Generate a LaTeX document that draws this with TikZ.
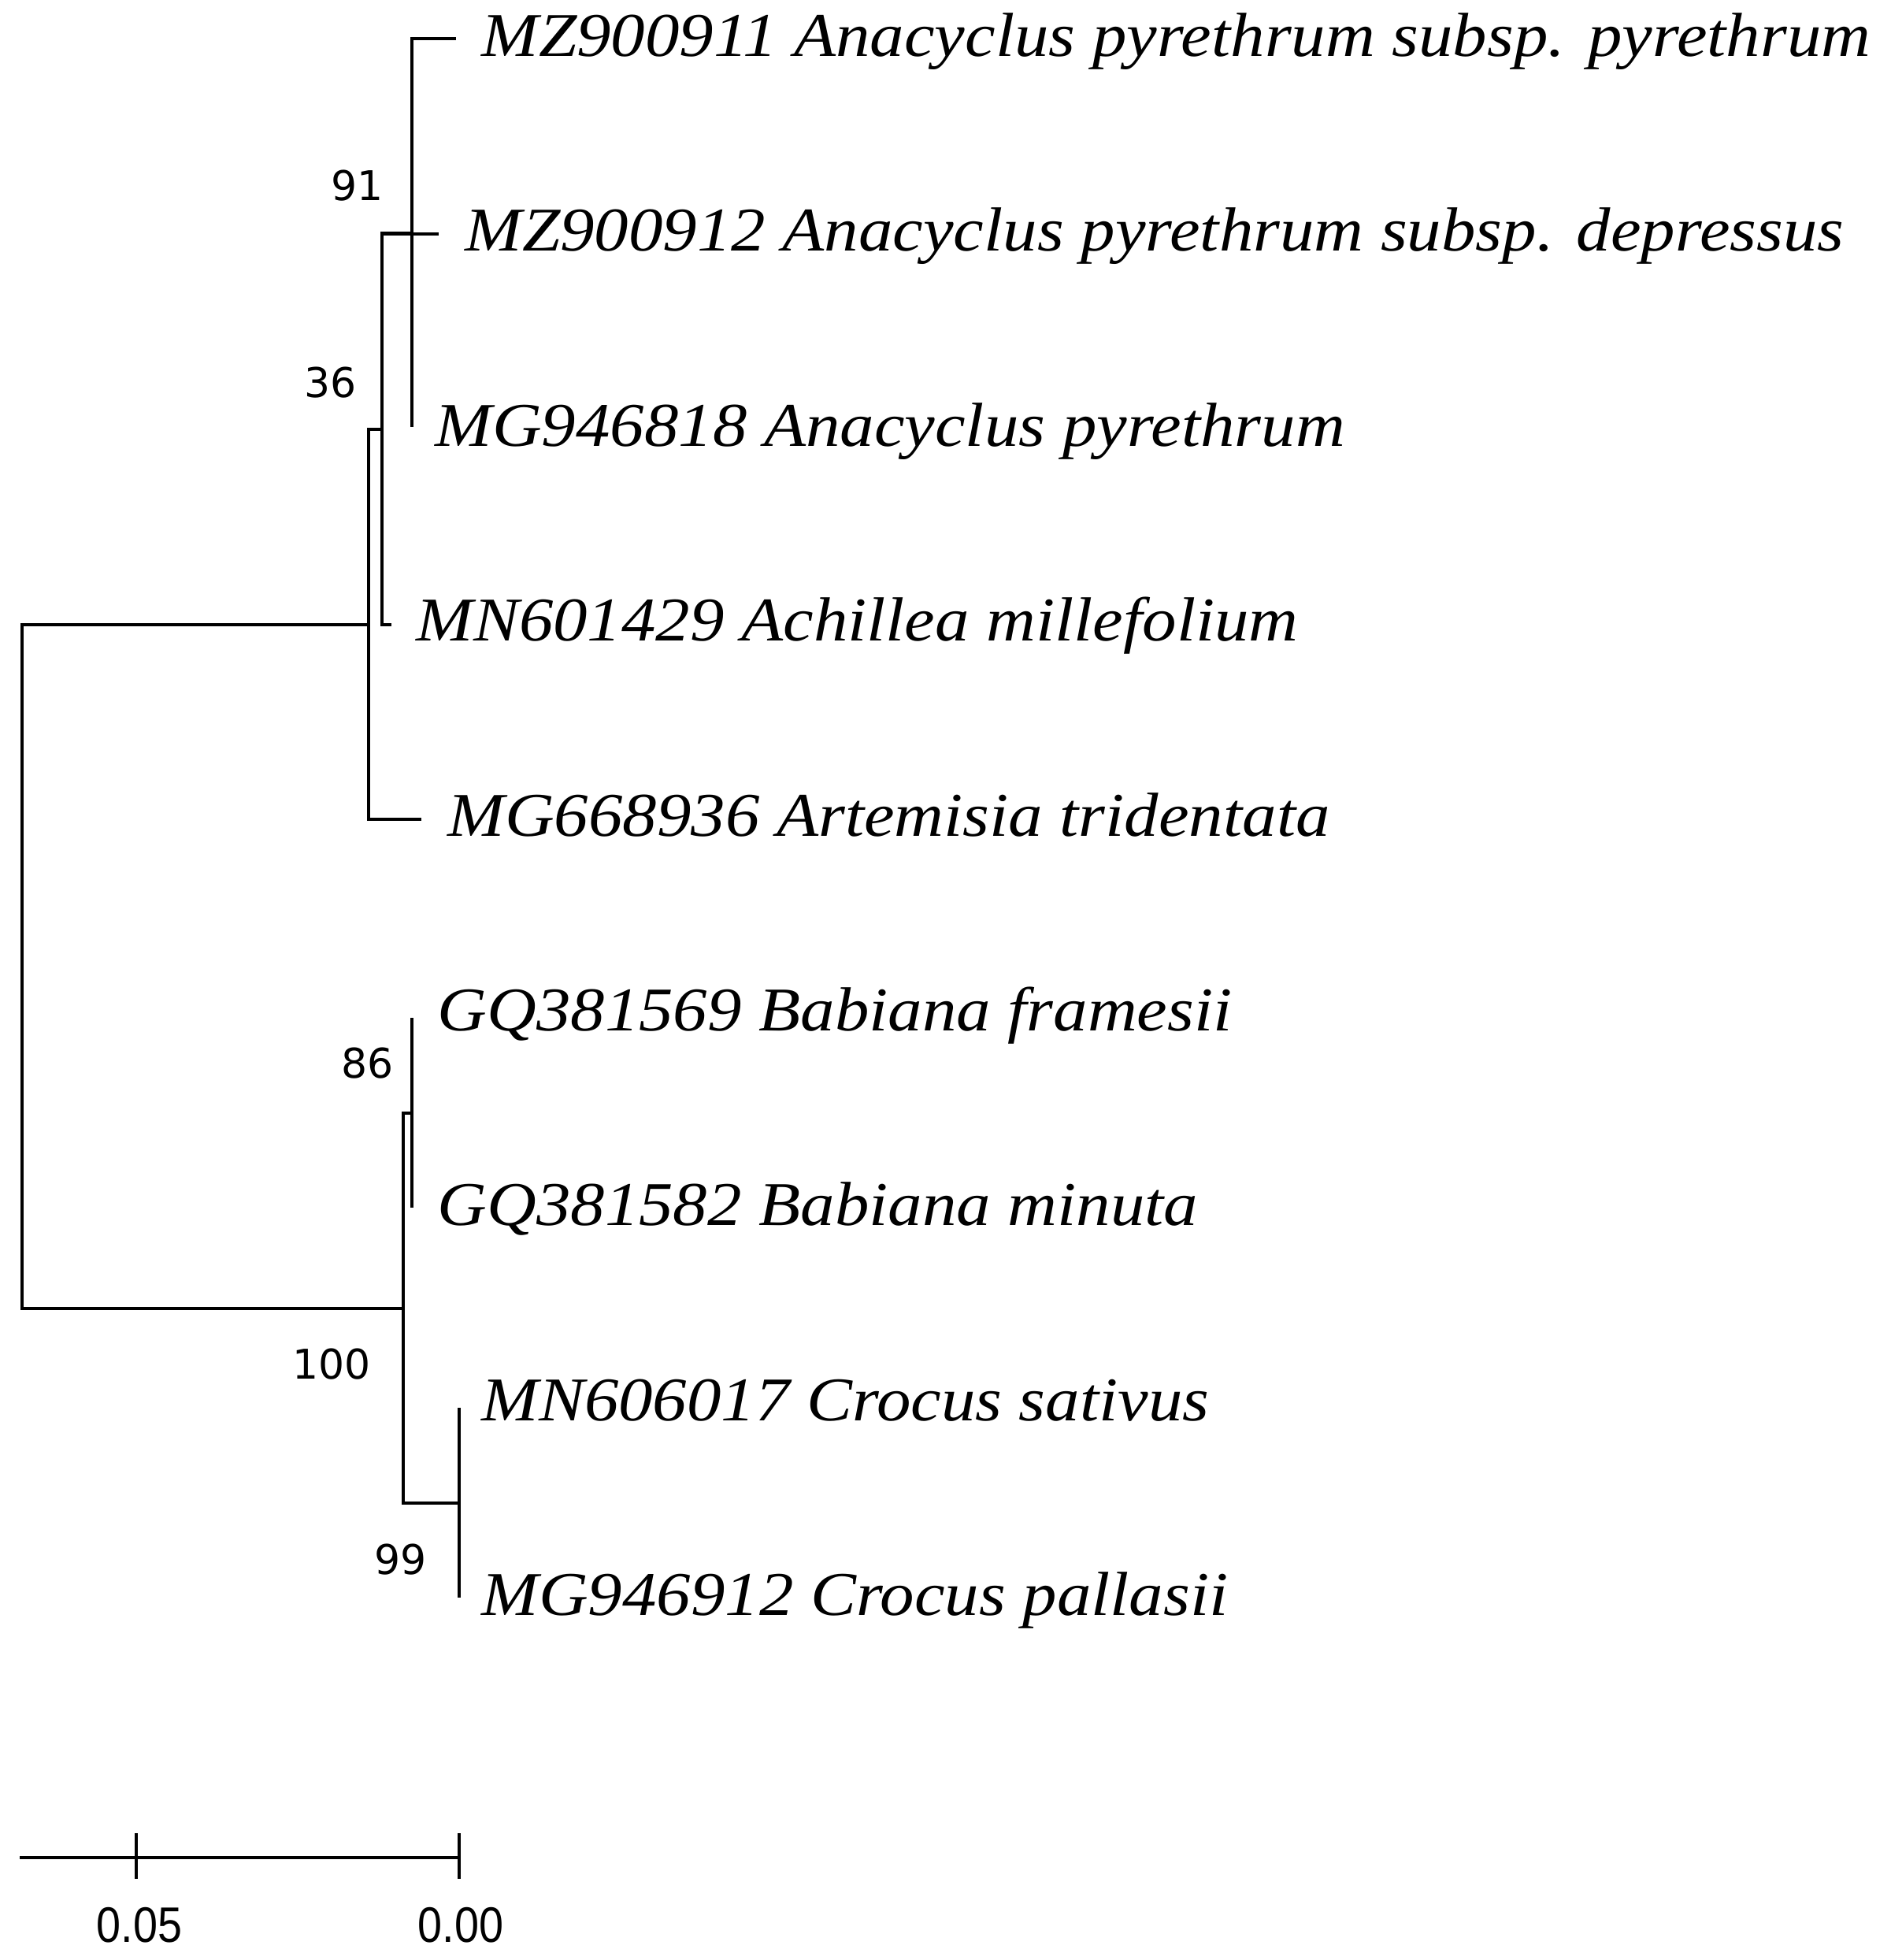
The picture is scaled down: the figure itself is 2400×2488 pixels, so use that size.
\documentclass[tikz,border=0pt]{standalone}
\usepackage{fontspec}
\usepackage{graphicx}
\newfontfamily\taxfont[FakeStretch=1.1]{Liberation Serif}
\newfontfamily\bsfont{DejaVu Sans}
\newfontfamily\scfont{Liberation Sans}
\begin{document}
\begin{tikzpicture}[x=0.3pt,y=-0.3pt,
  branch/.style={line width=1.2pt,black},
  taxon/.style={anchor=base west,inner sep=0pt,font=\taxfont\itshape\fontsize{23.7pt}{28pt}\selectfont},
  boot/.style={anchor=east,inner sep=0pt,font=\bsfont\fontsize{15.6pt}{18pt}\selectfont},
  scalelab/.style={anchor=base,inner sep=0pt,font=\scfont\fontsize{19pt}{22pt}\selectfont}]
\fill[white] (0,0) rectangle (2400,2488);
\useasboundingbox (0,0) rectangle (2400,2488);
% internal nodes
\coordinate (root) at (28,1226.5);
\coordinate (nA) at (468,793);
\coordinate (n36) at (485,545);
\coordinate (n91) at (523,295.5);
\coordinate (n100) at (512,1660.5);
\coordinate (n86) at (523,1413);
\coordinate (n99) at (583,1908);
% tips
\coordinate (t1) at (579,49);
\coordinate (t2) at (557,297);
\coordinate (t3) at (523,542);
\coordinate (t4) at (497,793);
\coordinate (t5) at (535,1040);
\coordinate (t6) at (523,1292);
\coordinate (t7) at (523,1533);
\coordinate (t8) at (583,1787);
\coordinate (t9) at (583,2028);
% branches
\draw[branch] (root) |- (nA);
\draw[branch] (root) |- (n100);
\draw[branch] (nA) |- (n36);
\draw[branch] (nA) |- (t5);
\draw[branch] (n36) |- (n91);
\draw[branch] (n36) |- (t2);
\draw[branch] (n36) |- (t4);
\draw[branch] (n91) |- (t1);
\draw[branch] (n91) |- (t3);
\draw[branch] (n100) |- (n86);
\draw[branch] (n100) |- (n99);
\draw[branch] (n86) |- (t6);
\draw[branch] (n86) |- (t7);
\draw[branch] (n99) |- (t8);
\draw[branch] (n99) |- (t9);
% taxon labels
\node[taxon] (l1) at (611,71) {MZ900911 Anacyclus pyrethrum subsp. pyrethrum};
\node[taxon] (l2) at (590,318) {MZ900912 Anacyclus pyrethrum subsp. depressus};
\node[taxon] (l3) at (552,566) {MG946818 Anacyclus pyrethrum};
\node[taxon] (l4) at (528,813) {MN601429 Achillea millefolium};
\node[taxon] (l5) at (568,1061) {MG668936 Artemisia tridentata};
\node[taxon] (l6) at (555,1308) {GQ381569 Babiana framesii};
\node[taxon] (l7) at (555,1555) {GQ381582 Babiana minuta};
\node[taxon] (l8) at (611,1803) {MN606017 Crocus sativus};
\node[taxon] (l9) at (611,2050) {MG946912 Crocus pallasii};
% bootstrap values
\node[boot] (b91) at (487,236) {91};
\node[boot] (b36) at (453,486) {36};
\node[boot] (b86) at (500,1350) {86};
\node[boot] (b100) at (471,1732) {100};
\node[boot] (b99) at (542,1980) {99};
% scale bar
\coordinate (s0) at (25,2358);
\coordinate (s1) at (583,2358);
\coordinate (k1a) at (173,2327);
\coordinate (k1b) at (173,2385);
\coordinate (k2a) at (583,2327);
\coordinate (k2b) at (583,2385);
\draw[branch] (s0) -- (s1);
\draw[branch] (k1a) -- (k1b);
\draw[branch] (k2a) -- (k2b);
\node[scalelab] (sl1) at (177,2465) {\scalebox{0.88}[1]{0.05}};
\node[scalelab] (sl2) at (585,2465) {\scalebox{0.88}[1]{0.00}};
\end{tikzpicture}
\end{document}
